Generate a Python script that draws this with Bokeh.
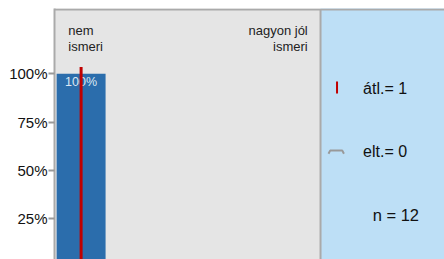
from bokeh.plotting import figure
from bokeh.models import Range1d, FixedTicker, CustomJSTickFormatter, ColumnDataSource
from bokeh.core.properties import value
from bokeh.embed import file_html
from bokeh.resources import INLINE

# data
categories = [1, 2, 3, 4, 5]
percentages = [100, 0, 0, 0, 0]
bar_labels = ["100%", "", "", "", ""]
end_labels = ["nem\nismeri", "nagyon jól\nismeri"]
y_ticks = [25, 50, 75, 100]
mean_value = 1
std_value = 0
n_value = 12

FONT = "Liberation Sans"

p = figure(width=444, height=259, output_backend="svg", toolbar_location=None,
           x_range=Range1d(0.5, 7.83), y_range=Range1d(3.78, 133.83),
           min_border_left=54, min_border_top=8, min_border_right=0, min_border_bottom=0)
p.background_fill_color = "#e5e5e5"
p.border_fill_color = "white"
p.outline_line_color = None
p.xgrid.visible = False
p.ygrid.visible = False
p.xaxis.visible = False

# right panel
p.quad(left=[5.5], right=[7.9], bottom=[-10], top=[140], fill_color="#bddff6", line_color=None)
p.segment(x0=[5.5], x1=[5.5], y0=[-10], y1=[133.3], line_color="#aaaaaa", line_width=2)
# top border
p.segment(x0=[0.4], x1=[8.0], y0=[133.3], y1=[133.3], line_color="#aaaaaa", line_width=2)

# bars
src = ColumnDataSource(dict(x=categories, top=percentages, lab=bar_labels,
                            ly=[t - 4.5 for t in percentages]))
p.vbar(x="x", top="top", bottom=0, width=0.92, source=src, fill_color="#2b6dac", line_color=None)
p.text(x="x", y="ly", text="lab", source=src,
       text_font=value(FONT), text_font_size="12.5px", text_color="#dde8f3",
       text_align="center", text_baseline="middle")

# mean marker
p.segment(x0=[mean_value], x1=[mean_value], y0=[0], y1=[103.5], line_color="#c00000", line_width=3)

# end labels
p.text(x=[0.76], y=[126.3], text=[end_labels[0]], text_font=value(FONT), text_font_size="13px",
       text_color="#222222", text_align="left", text_baseline="top", text_line_height=1.05)
p.text(x=[5.26], y=[126.3], text=[end_labels[1]], text_font=value(FONT), text_font_size="13px",
       text_color="#222222", text_align="right", text_baseline="top", text_line_height=1.05)

# legend panel
p.segment(x0=[5.81], x1=[5.81], y0=[89.8], y1=[96.0], line_color="#c00000", line_width=2)
p.text(x=[6.30], y=[92.4], text=[f"átl.= {mean_value}"], text_font=value(FONT), text_font_size="16px",
       text_color="#111111", text_baseline="middle")
p.multi_line(xs=[[5.65, 5.68, 5.91, 5.94]], ys=[[58.6, 60.2, 60.2, 58.6]], line_color="#999999", line_width=2)
p.text(x=[6.30], y=[59.7], text=[f"elt.= {std_value}"], text_font=value(FONT), text_font_size="16px",
       text_color="#111111", text_baseline="middle")
p.text(x=[6.48], y=[26.9], text=[f"n = {n_value}"], text_font=value(FONT), text_font_size="16.5px",
       text_color="#111111", text_baseline="middle")

# y axis
p.yaxis.ticker = FixedTicker(ticks=y_ticks)
p.yaxis.formatter = CustomJSTickFormatter(code="return tick + '%';")
p.yaxis.axis_line_color = "#aaaaaa"
p.yaxis.axis_line_width = 2
p.yaxis.major_tick_line_color = "#999999"
p.yaxis.major_tick_line_width = 2
p.yaxis.major_tick_out = 6
p.yaxis.major_tick_in = 0
p.yaxis.minor_tick_line_color = None
p.yaxis.major_label_standoff = 1
p.yaxis.major_label_text_font = FONT
p.yaxis.major_label_text_font_size = "15px"
p.yaxis.major_label_text_color = "#111111"

open("out.html", "w").write(file_html(p, INLINE))
